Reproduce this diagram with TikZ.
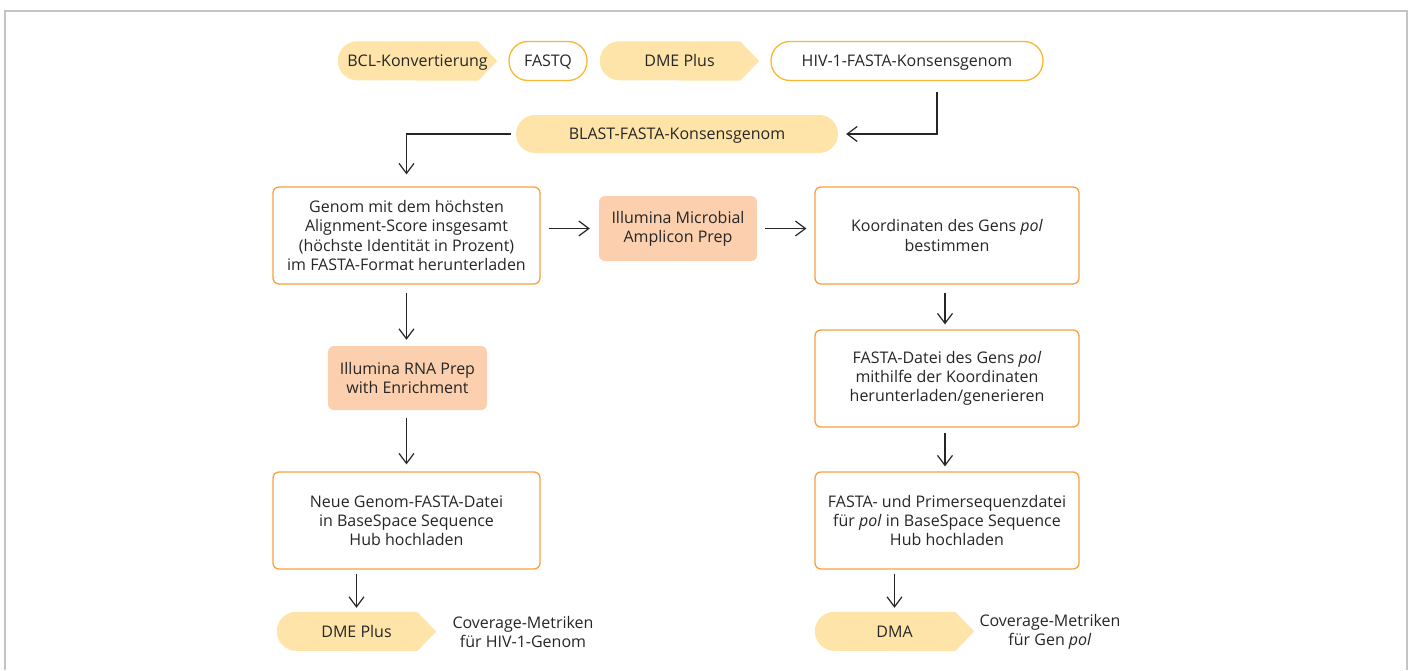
\documentclass[tikz,border=0pt]{standalone}
\usepackage{fontspec}
\setmainfont{Open Sans}
\usetikzlibrary{arrows.meta,backgrounds}

\definecolor{tagfill}{HTML}{FEE4A8}
\definecolor{pillline}{HTML}{F7B733}
\definecolor{boxline}{HTML}{F7A03C}
\definecolor{prepfill}{HTML}{FCD0AE}
\definecolor{ink}{HTML}{262626}
\definecolor{frameline}{HTML}{C4C4C4}

\tikzset{
 every node/.style={font=\fontsize{16}{19.3}\selectfont, text=ink, align=center},
 tag/.style={minimum height=39pt, inner sep=0pt, text height=11.5pt, text depth=0pt},
 pill/.style={draw=pillline, line width=1.3pt, rounded corners=19pt,
   minimum height=39pt, inner sep=0pt, text height=11.5pt, text depth=0pt},
 flowbox/.style={draw=boxline, line width=1.3pt, rounded corners=6pt,
   minimum width=267pt, minimum height=97pt, inner sep=0pt},
 prepbox/.style={fill=prepfill, rounded corners=6pt, minimum width=159pt,
   minimum height=64pt, inner sep=0pt},
 arr/.style={draw=ink, line width=1.2pt, -{Straight Barb[length=10pt,width=15pt]}}
}

\begin{document}
\begin{tikzpicture}[x=1pt,y=1pt]

\newcommand{\tagshape}[1] % tag: round left end, pointed right end
{
 \fill[tagfill] (#1.east) -- ([xshift=-\tip]#1.north east)
   -- ([xshift=\rad]#1.north west) arc (90:270:\rad)
   -- ([xshift=-\tip]#1.south east) -- cycle;
}
\def\tip {19} \def\rad {19.5}

\useasboundingbox (0,0) rectangle (1410,-670);

% top row
\node[tag, minimum width=159pt] (bcl) at (417.5,-61) {BCL-Konvertierung};
\node[pill, minimum width=78pt] (fastq) at (548,-61) {FASTQ};
\node[tag, minimum width=159pt] (dmetop) at (679.5,-61) {DME Plus};
\node[pill, minimum width=272pt] (hiv) at (907,-61) {HIV-1-FASTA-Konsensgenom};
\node[tag, fill=tagfill, rounded corners=19pt, minimum width=322pt, minimum height=38pt]
  (blast) at (677,-134) {BLAST-FASTA-Konsensgenom};

% left column
\node[flowbox] (genom) at (406.5,-235.5)
  {Genom mit dem höchsten\\Alignment-Score insgesamt\\(höchste Identität in Prozent)\\im FASTA-Format herunterladen};
\node[prepbox, minimum width=158pt, minimum height=65pt] (micro) at (678,-228.5)
  {Illumina Microbial\\Amplicon Prep};
\node[prepbox] (rna) at (407.5,-378) {Illumina RNA Prep\\with Enrichment};
\node[flowbox] (neu) at (406.5,-520.5)
  {Neue Genom-FASTA-Datei\\in BaseSpace Sequence\\Hub hochladen};
\node[tag, minimum width=159pt] (dmebot) at (356.5,-631.5) {DME Plus};
\node (covhiv) at (523,-632) {Coverage-Metriken\\für HIV-1-Genom};

% right column
\node[flowbox, minimum width=264pt] (koord) at (947,-235.5)
  {Koordinaten des Gens \textit{pol}\\bestimmen};
\node[flowbox, minimum width=264pt] (fasta) at (947,-378.5)
  {FASTA-Datei des Gens \textit{pol}\\mithilfe der Koordinaten\\herunterladen/generieren};
\node[flowbox, minimum width=264pt] (primer) at (947,-520.5)
  {FASTA- und Primersequenzdatei\\für \textit{pol} in BaseSpace Sequence\\Hub hochladen};
\node[tag, minimum width=159pt] (dma) at (894.5,-631.5) {DMA};
\node (covpol) at (1050,-632) {Coverage-Metriken\\für Gen \textit{pol}};

\begin{scope}[on background layer]
 \draw[frameline, line width=1.5pt] (5,-670) -- (5,-11) -- (1407,-11) -- (1407,-670);
 \tagshape{bcl} \tagshape{dmetop} \tagshape{dmebot} \tagshape{dma}
\end{scope}

% connectors
\draw[arr, shorten <=11pt, shorten >=8pt] ([xshift=30]hiv.south) |- (blast.east);
\draw[arr, shorten <=5pt, shorten >=12pt] (blast.west) -| (genom.north);
\draw[arr, shorten <=8pt, shorten >=9pt] (genom.east |- micro.west) -- (micro.west);
\draw[arr, shorten <=8pt, shorten >=8pt] (micro.east) -- (micro.east -| koord.west);
\draw[arr, shorten <=8pt, shorten >=6pt] (genom.south) -- (rna.north -| genom.south);
\draw[arr, shorten <=8pt, shorten >=7pt] (rna.south -| neu.north) -- (neu.north);
\draw[arr, shorten <=4pt, shorten >=4pt] (neu.south -| dmebot.north) -- (dmebot.north);
\draw[arr, shorten <=8pt, shorten >=5pt] ([xshift=-2]koord.south) -- ([xshift=-2]fasta.north);
\draw[arr, shorten <=5pt, shorten >=5pt] ([xshift=-2]fasta.south) -- ([xshift=-2]primer.north);
\draw[arr, shorten <=4pt, shorten >=4pt] (primer.south -| dma.north) -- (dma.north);

\end{tikzpicture}
\end{document}
